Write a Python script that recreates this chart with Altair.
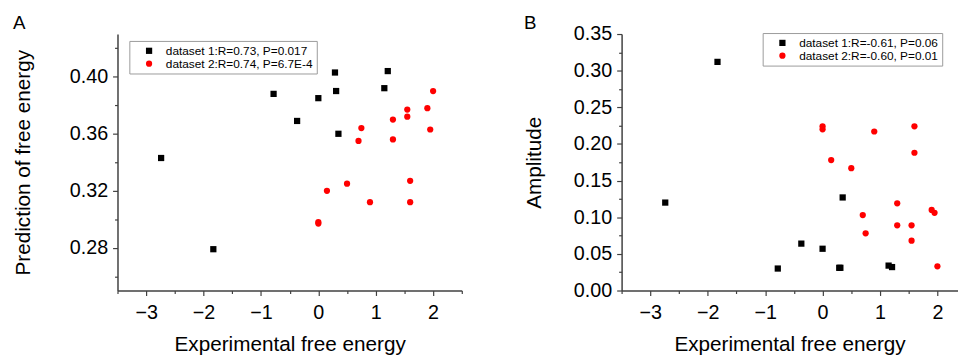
import altair as alt
import pandas as pd

FONT = "Liberation Sans"

# dataset 1 (black squares) and dataset 2 (red circles)
x1 = [-2.74, -1.83, -0.78, -0.37, 0.0, 0.29, 0.31, 0.35, 1.15, 1.21]
yA1 = [0.343, 0.279, 0.388, 0.369, 0.385, 0.403, 0.390, 0.360, 0.392, 0.404]
yB1 = [0.120, 0.312, 0.030, 0.064, 0.057, 0.031, 0.031, 0.127, 0.034, 0.032]

x2 = [0.0, 0.0, 0.15, 0.50, 0.70, 0.75, 0.90, 1.30, 1.30, 1.55, 1.55, 1.60, 1.60, 1.90, 1.95, 2.00]
yA2 = [0.298, 0.297, 0.320, 0.325, 0.355, 0.364, 0.312, 0.370, 0.356, 0.377, 0.372, 0.327, 0.312, 0.378, 0.363, 0.390]
yB2 = [0.224, 0.220, 0.178, 0.167, 0.103, 0.078, 0.217, 0.119, 0.089, 0.089, 0.068, 0.224, 0.188, 0.110, 0.106, 0.033]

labelsA = ["dataset 1:R=0.73, P=0.017", "dataset 2:R=0.74, P=6.7E-4"]
labelsB = ["dataset 1:R=-0.61, P=0.06", "dataset 2:R=-0.60, P=0.01"]

x_major = [-3, -2, -1, 0, 1, 2]
x_minor = [-3.5, -2.5, -1.5, -0.5, 0.5, 1.5, 2.5]
yA_major = [0.28, 0.32, 0.36, 0.40]
yA_minor = [0.26, 0.30, 0.34, 0.38, 0.42]
yB_major = [0.0, 0.05, 0.10, 0.15, 0.20, 0.25, 0.30, 0.35]
yB_minor = [0.025, 0.075, 0.125, 0.175, 0.225, 0.275, 0.325]


def frame(xs1, ys1, xs2, ys2, labels):
    d1 = pd.DataFrame({"x": xs1, "y": ys1, "series": labels[0]})
    d2 = pd.DataFrame({"x": xs2, "y": ys2, "series": labels[1]})
    return pd.concat([d1, d2], ignore_index=True)


def panel(df, labels, xdom, ydom, ymaj, ymin, yfmt, ytitle, letter, width,
          ytitle_pad, legx, legy, toff):
    xscale = alt.Scale(domain=xdom, nice=False, zero=False)
    yscale = alt.Scale(domain=ydom, nice=False, zero=False)
    axis_common = dict(
        grid=False, domainColor="#404040", domainWidth=1.5, tickColor="#404040",
        tickWidth=1.2, labelFont=FONT, titleFont=FONT, labelColor="black",
        titleColor="black", titleFontWeight="normal", labelFontSize=20,
        titleFontSize=21,
    )
    pts = alt.Chart(df).mark_point(filled=True, opacity=1, size=40).encode(
        x=alt.X("x:Q", scale=xscale,
                axis=alt.Axis(values=x_major, format="d", tickSize=5, labelPadding=7,
                              title="Experimental free energy", titlePadding=12,
                              labelFlush=False, **axis_common)),
        y=alt.Y("y:Q", scale=yscale,
                axis=alt.Axis(values=ymaj, format=yfmt, tickSize=5, labelPadding=5,
                              title=ytitle, titlePadding=ytitle_pad,
                              labelFlush=False, **axis_common)),
        color=alt.Color("series:N", scale=alt.Scale(domain=labels, range=["black", "red"]),
                        legend=alt.Legend(
                            title=None, orient="none", legendX=legx, legendY=legy,
                            strokeColor="#9a9a9a", fillColor="white", padding=4,
                            labelFont=FONT, labelFontSize=12, labelColor="black",
                            symbolSize=40, symbolOffset=10, labelOffset=11,
                            rowPadding=1, symbolStrokeWidth=0)),
        shape=alt.Shape("series:N", scale=alt.Scale(domain=labels, range=["square", "circle"]),
                        legend=None),
    )
    minor = alt.Chart(df).mark_point(opacity=0).encode(
        x=alt.X("x:Q", scale=xscale,
                axis=alt.Axis(values=x_minor, labels=False, tickSize=3, domain=False,
                              title=None, grid=False, orient="bottom",
                              tickColor="#404040", tickWidth=1.2)),
        y=alt.Y("y:Q", scale=yscale,
                axis=alt.Axis(values=ymin, labels=False, tickSize=3, domain=False,
                              title=None, grid=False, orient="left",
                              tickColor="#404040", tickWidth=1.2)),
    )
    return alt.layer(pts, minor).resolve_axis(x="independent", y="independent").properties(
        width=width, height=260,
        title=alt.TitleParams(letter, anchor="start", font=FONT, fontSize=19,
                              fontWeight="normal", color="black", offset=toff),
    )


dfA = frame(x1, yA1, x2, yA2, labelsA)
dfB = frame(x1, yB1, x2, yB2, labelsB)

A = panel(dfA, labelsA, [-3.5, 2.5], [0.25, 0.43], yA_major, yA_minor, ".2f",
          "Prediction of free energy", "A", 349, 36, 12, 7, 1)
B = panel(dfB, labelsB, [-3.5, 2.35], [0.0, 0.35], yB_major, yB_minor, ".2f",
          "Amplitude", "B", 340.5, 29, 143, -1, -9)

chart = alt.hconcat(A, B, spacing=62).resolve_scale(
    color="independent", shape="independent"
).properties(
    padding={"left": 5, "top": 4, "right": 0, "bottom": 0}
).configure_view(stroke=None)

chart.save("out.html", embed_options={"renderer": "svg", "actions": False})
